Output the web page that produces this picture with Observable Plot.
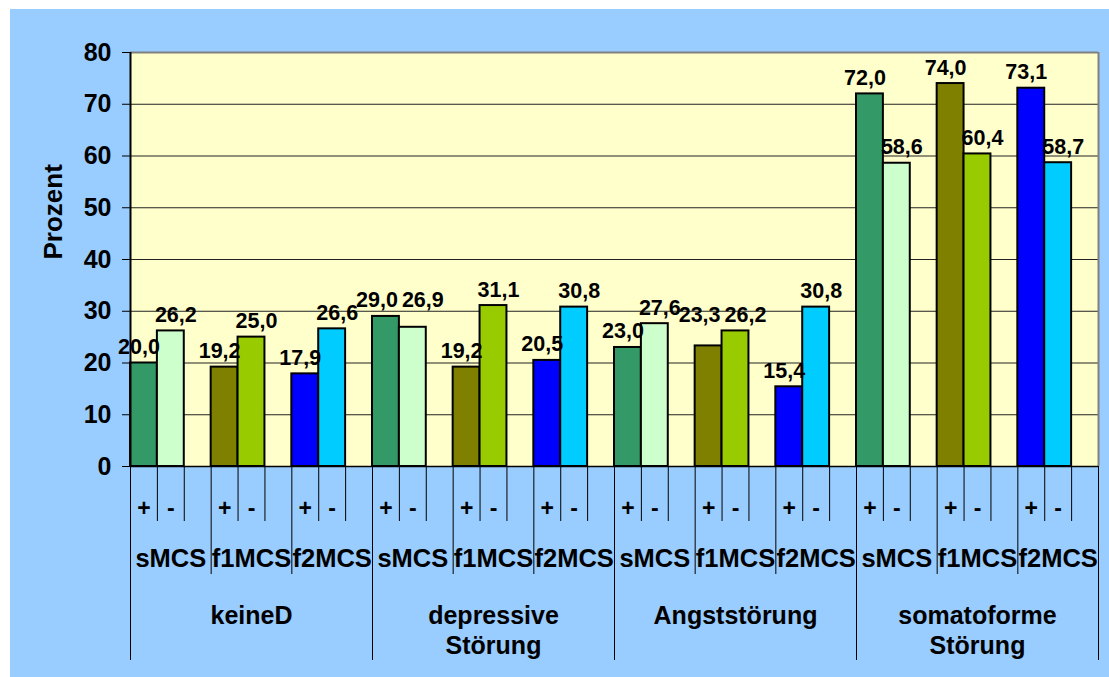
<!DOCTYPE html>
<html><head><meta charset="utf-8">
<script src="https://cdn.jsdelivr.net/npm/d3@7"></script>
<script src="https://cdn.jsdelivr.net/npm/@observablehq/plot@0.6"></script>
<style>
body{margin:0;background:#ffffff;}
#chart{position:absolute;left:10px;top:9px;width:1099px;height:668px;background:#99CCFF;overflow:hidden;}
</style></head><body><div id="chart"></div>
<script>
// ---- data ----
const groups = ["keineD", "depressive\nStörung", "Angststörung", "somatoforme\nStörung"];
const scales = ["sMCS", "f1MCS", "f2MCS"];
const signs = ["+", "-"];
const plusValues  = [20.0, 19.2, 17.9, 29.0, 19.2, 20.5, 23.0, 23.3, 15.4, 72.0, 74.0, 73.1];
const minusValues = [26.2, 25.0, 26.6, 26.9, 31.1, 30.8, 27.6, 26.2, 30.8, 58.6, 60.4, 58.7];
const yTicks = [0, 10, 20, 30, 40, 50, 60, 70, 80];
const yTitle = "Prozent";
const plusColors  = ["#339966", "#808000", "#0000FF"];
const minusColors = ["#CCFFCC", "#99CC00", "#00CCFF"];

// ---- layout ----
const W = 1099, H = 668, mL = 120, mR = 11, mT = 43, mB = 211;
const unit = (H - mT - mB) / 80; // px per percent
const font = "'Liberation Sans', Arial, sans-serif";

const rows = [];
groups.forEach((g, gi) => scales.forEach((s, si) => signs.forEach((sg, k) => {
  const idx = gi * scales.length + si;
  const a = plusValues[idx], b = minusValues[idx];
  const close = Math.abs(a - b) * unit < 16; // labels of the pair would collide
  rows.push({
    group: g, scale: s, sign: sg, idx, k, close,
    slot: idx * 3 + k,
    value: k === 0 ? a : b,
    labelY: close ? Math.max(a, b) : (k === 0 ? a : b),
    color: k === 0 ? plusColors[si] : minusColors[si]
  });
})));
const nSlots = groups.length * scales.length * 3;
const bounds = d3.range(nSlots + 1).map(b => ({
  b, len: b % 9 === 0 ? 194 : (b % 3 === 0 ? 108 : 55)
}));
const subgroups = rows.filter(d => d.k === 0);
const groupRows = groups.map((g, gi) => ({g, c: gi * 9 + 4.5}));
const fmt = v => v.toFixed(1).replace(".", ",");
const labelOpts = (dx) => ({x: d => d.slot + 0.5, y: "labelY", text: d => fmt(d.value), lineAnchor: "bottom", dy: -9, dx, fontSize: 21.5, fontWeight: "bold", fill: "#000"});

const chart = Plot.plot({
  width: W, height: H,
  marginLeft: mL, marginRight: mR, marginTop: mT, marginBottom: mB,
  style: {background: "transparent", fontFamily: font, fontSize: "25px", fontWeight: "bold", color: "#000", overflow: "visible"},
  x: {type: "linear", domain: [0, nSlots], axis: null},
  y: {domain: [0, 80], ticks: yTicks, tickSize: 8, tickPadding: 11, tickFormat: d => String(d), label: null},
  color: {type: "identity"},
  marks: [
    Plot.frame({fill: "#FFFFCC", stroke: null}),
    Plot.ruleY(yTicks.filter(t => t > 0 && t < 80), {stroke: "#222", strokeWidth: 1}),
    Plot.ruleY([80], {stroke: "#808080", strokeWidth: 2}),
    Plot.ruleX([nSlots], {stroke: "#808080", strokeWidth: 2}),
    Plot.rectY(rows, {x1: "slot", x2: d => d.slot + 1, y: "value", fill: "color", stroke: "#000", strokeWidth: 2}),
    Plot.ruleY([0], {stroke: "#000", strokeWidth: 1.5}),
    Plot.ruleX([0], {stroke: "#000", strokeWidth: 2}),
    Plot.ruleX(bounds, {x: "b", y1: 0, y2: d => -d.len / unit, stroke: "#000", strokeWidth: 1}),
    Plot.text(rows.filter(d => d.k === 0 && !d.close), labelOpts(-5)),
    Plot.text(rows.filter(d => d.k === 1 && !d.close), labelOpts(5)),
    Plot.text(rows.filter(d => d.k === 0 && d.close), labelOpts(-9)),
    Plot.text(rows.filter(d => d.k === 1 && d.close), labelOpts(10)),
    Plot.text(rows, {x: d => d.slot + 0.5, y: 0, text: "sign", dy: 42, fontSize: 23, fontWeight: "bold", fill: "#000"}),
    Plot.text(subgroups, {x: d => d.idx * 3 + 1.5, y: 0, text: "scale", dy: 92, fontSize: 25.5, fontWeight: "bold", fill: "#000"}),
    Plot.text(groupRows, {x: "c", y: 0, text: "g", lineAnchor: "top", dy: 136, lineHeight: 1.2, fontSize: 25, fontWeight: "bold", fill: "#000"}),
    Plot.text([yTitle], {frameAnchor: "left", dx: -77, rotate: -90, fontSize: 26, fontWeight: "bold", fill: "#000"})
  ]
});
document.getElementById("chart").appendChild(chart);
</script>
</body></html>
